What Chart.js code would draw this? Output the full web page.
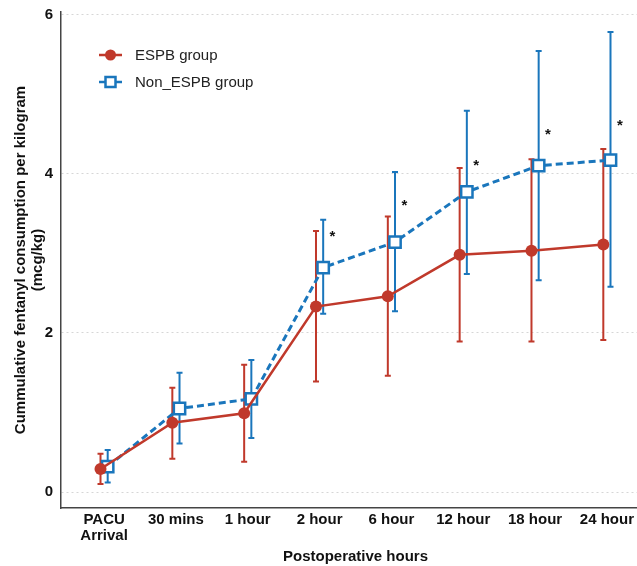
<!DOCTYPE html>
<html>
<head>
<meta charset="utf-8">
<script src="https://cdn.jsdelivr.net/npm/chart.js@4"></script>
<style>
  html, body { margin: 0; padding: 0; background: #fff; overflow: hidden; }
  #wrap { width: 637px; height: 566px; overflow: hidden; }
</style>
</head>
<body>
<!-- the panel runs a little past the right edge of the picture, as in the original -->
<div id="wrap"><canvas id="fentanylChart" width="650" height="566"></canvas></div>
<script>
const timepoints = [['PACU', 'Arrival'], '30 mins', '1 hour', '2 hour', '6 hour', '12 hour', '18 hour', '24 hour'];

const espbMean = [0.29, 0.87, 0.99, 2.33, 2.46, 2.98, 3.03, 3.11];
const espbUpper = [0.48, 1.31, 1.60, 3.28, 3.46, 4.07, 4.18, 4.31];
const espbLower = [0.10, 0.42, 0.38, 1.39, 1.46, 1.89, 1.89, 1.91];

const nonEspbMean = [0.32, 1.05, 1.17, 2.82, 3.14, 3.77, 4.10, 4.17];
const nonEspbUpper = [0.53, 1.50, 1.66, 3.42, 4.02, 4.79, 5.54, 5.78];
const nonEspbLower = [0.12, 0.61, 0.68, 2.24, 2.27, 2.74, 2.66, 2.58];

// where the "*" marks sit (null = not significant)
const starLevel = [null, null, null, 3.25, 3.64, 4.15, 4.54, 4.65];

const yTicks = [0, 2, 4, 6];

const RED = '#c0392b';
const BLUE = '#1a76bc';
const FONT = "'Liberation Sans', Arial, sans-serif";
const DODGE = 0.05;

Chart.defaults.font.family = FONT;

const toPoints = (arr, shift) => arr.map((v, i) => ({ x: i + shift, y: v }));

// error bars drawn under the lines and markers
const errorBars = {
    id: 'errorBars',
    beforeDatasetsDraw(chart) {
        const { ctx, scales: { x, y } } = chart;
        ctx.save();
        chart.data.datasets.forEach((ds) => {
            ctx.strokeStyle = ds.borderColor;
            ctx.lineWidth = 2;
            ds.data.forEach((pt, i) => {
                const px = x.getPixelForValue(pt.x);
                const top = y.getPixelForValue(ds.upper[i]);
                const bot = y.getPixelForValue(ds.lower[i]);
                ctx.beginPath();
                ctx.moveTo(px, top);
                ctx.lineTo(px, bot);
                ctx.moveTo(px - 3, top);
                ctx.lineTo(px + 3, top);
                ctx.moveTo(px - 3, bot);
                ctx.lineTo(px + 3, bot);
                ctx.stroke();
            });
        });
        ctx.restore();
    },
};

const stars = {
    id: 'stars',
    afterDatasetsDraw(chart) {
        const { ctx, scales: { x, y } } = chart;
        ctx.save();
        ctx.fillStyle = '#111';
        ctx.font = `bold 15px ${FONT}`;
        ctx.textAlign = 'center';
        ctx.textBaseline = 'alphabetic';
        starLevel.forEach((lvl, i) => {
            if (lvl === null) return;
            ctx.fillText('*', x.getPixelForValue(i + 0.18), y.getPixelForValue(lvl) + 8);
        });
        ctx.restore();
    },
};

// ggplot-style legend inside the panel (line through marker)
const panelLegend = {
    id: 'panelLegend',
    afterDraw(chart) {
        const { ctx } = chart;
        ctx.save();
        chart.data.datasets.forEach((ds, k) => {
            const cy = 55 + k * 27;
            ctx.strokeStyle = ds.borderColor;
            ctx.lineWidth = 2.5;
            ctx.setLineDash([]);
            ctx.beginPath();
            ctx.moveTo(99, cy);
            ctx.lineTo(122, cy);
            ctx.stroke();
            if (ds.pointStyle === 'rect') {
                ctx.fillStyle = '#fff';
                ctx.fillRect(105.5, cy - 5, 10, 10);
                ctx.strokeRect(105.5, cy - 5, 10, 10);
            } else {
                ctx.fillStyle = ds.borderColor;
                ctx.beginPath();
                ctx.arc(110.5, cy, 5.5, 0, Math.PI * 2);
                ctx.fill();
            }
            ctx.fillStyle = '#222';
            ctx.font = `15px ${FONT}`;
            ctx.textAlign = 'left';
            ctx.textBaseline = 'middle';
            ctx.fillText(ds.label, 135, cy + 1);
        });
        ctx.restore();
    },
};

const ctx = document.getElementById('fentanylChart').getContext('2d');
new Chart(ctx, {
    type: 'line',
    data: {
        datasets: [
            {
                label: 'ESPB group',
                data: toPoints(espbMean, -DODGE),
                upper: espbUpper,
                lower: espbLower,
                borderColor: RED,
                backgroundColor: RED,
                borderWidth: 2.5,
                pointStyle: 'circle',
                pointRadius: 6,
                pointBorderWidth: 0,
                pointBackgroundColor: RED,
                tension: 0,
            },
            {
                label: 'Non_ESPB group',
                data: toPoints(nonEspbMean, DODGE),
                upper: nonEspbUpper,
                lower: nonEspbLower,
                borderColor: BLUE,
                backgroundColor: '#fff',
                borderWidth: 3,
                borderDash: [7, 4],
                pointStyle: 'rect',
                pointRadius: 8,
                pointBorderWidth: 2.5,
                pointBackgroundColor: '#fff',
                pointBorderColor: BLUE,
                tension: 0,
            },
        ],
    },
    options: {
        responsive: false,
        animation: false,
        events: [],
        layout: { autoPadding: false, padding: { left: 0, right: 0, top: 12, bottom: 0 } },
        plugins: {
            legend: { display: false },
            tooltip: { enabled: false },
        },
        scales: {
            x: {
                type: 'linear',
                min: -0.6,
                max: 7.6,
                afterBuildTicks: (s) => { s.ticks = timepoints.map((_, i) => ({ value: i })); },
                afterFit: (s) => {
                    s.height = 58;
                    s.paddingLeft = 0;
                    s.paddingRight = 0;
                },
                grid: { display: false, drawTicks: false },
                border: { display: true, color: '#444', width: 1.5 },
                ticks: {
                    autoSkip: false,
                    maxRotation: 0,
                    padding: 4,
                    color: '#111',
                    font: { size: 15, weight: 'bold', lineHeight: 1.05 },
                    callback: (v) => timepoints[v],
                },
                title: {
                    display: true,
                    text: 'Postoperative hours',
                    color: '#111',
                    font: { size: 15, weight: 'bold', lineHeight: 1.2 },
                    padding: { top: 0, bottom: 0 },
                },
            },
            y: {
                type: 'linear',
                min: -0.2,
                max: 6.03,
                afterBuildTicks: (s) => { s.ticks = yTicks.map((v) => ({ value: v })); },
                afterFit: (s) => {
                    s.width = 61;
                    s.paddingTop = 0;
                    s.paddingBottom = 0;
                },
                grid: { color: '#d6d6d6', lineWidth: 1, drawTicks: false },
                border: { display: true, color: '#444', width: 1.5, dash: [2, 3] },
                ticks: {
                    padding: 8,
                    color: '#111',
                    font: { size: 15, weight: 'bold' },
                },
                title: {
                    display: true,
                    text: ['Cummulative fentanyl consumption per kilogram', '(mcg/kg)'],
                    color: '#111',
                    font: { size: 15, weight: 'bold', lineHeight: 1.15 },
                    padding: { top: 12, bottom: 0 },
                },
            },
        },
    },
    plugins: [errorBars, stars, panelLegend],
});
</script>
</body>
</html>
